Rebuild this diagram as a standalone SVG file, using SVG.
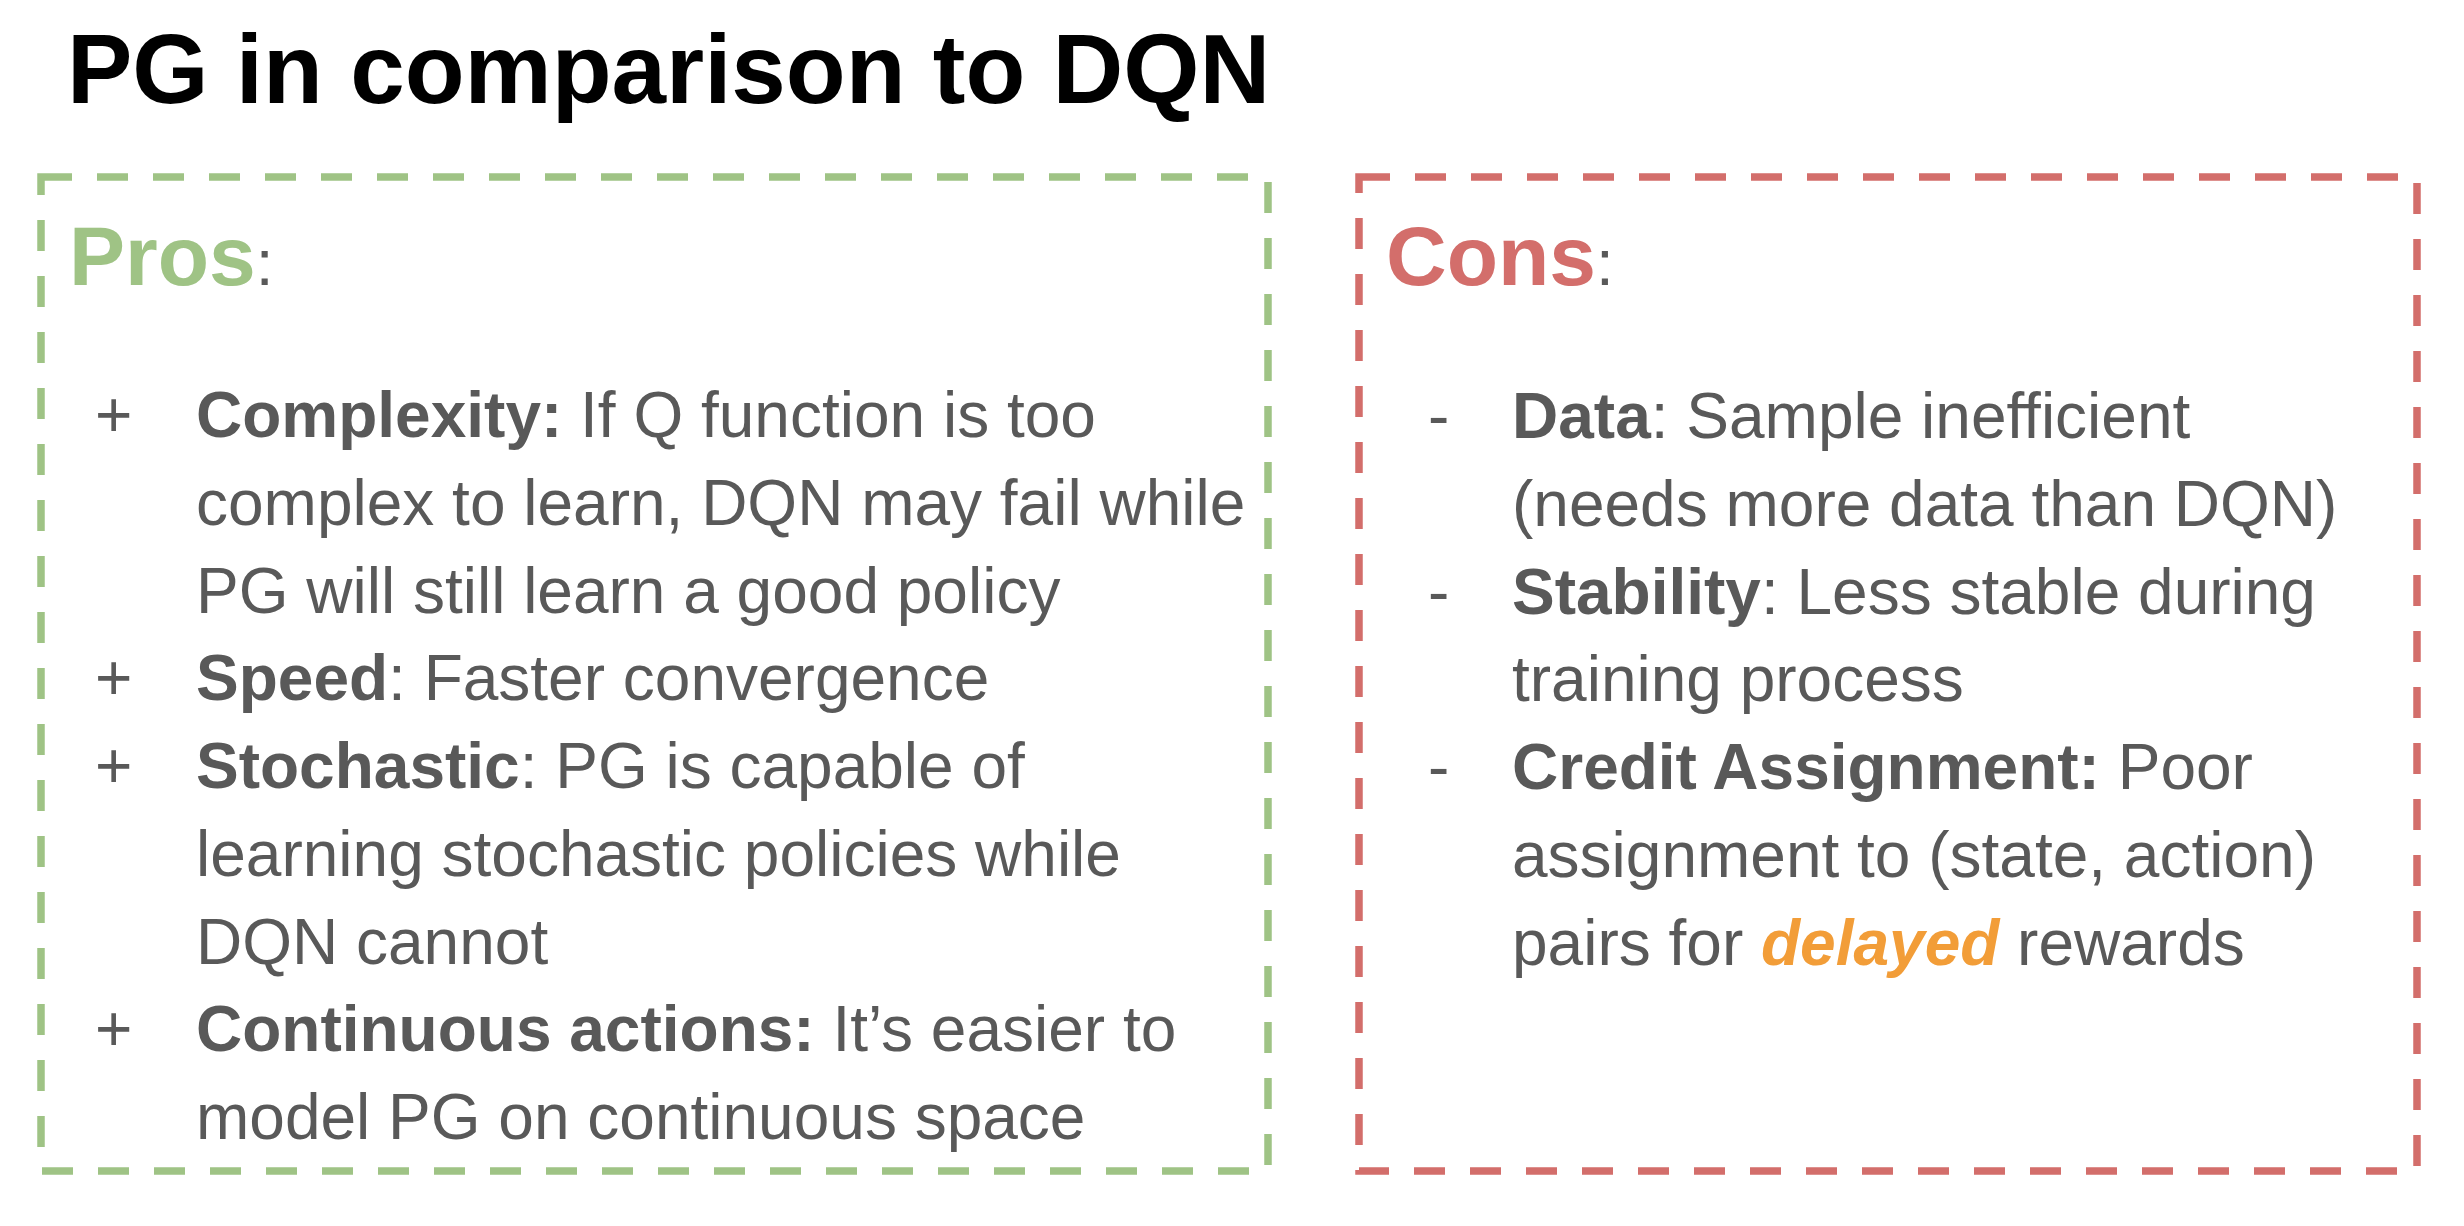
<svg xmlns="http://www.w3.org/2000/svg" width="2464" height="1226" viewBox="0 0 2464 1226">
<style>
text{font-family:"Liberation Sans",Arial,sans-serif;}
.title{font-size:98px;font-weight:bold;fill:#000000;}
.head{font-size:84px;font-weight:bold;}
.body{font-size:64px;fill:#595959;}
.b{font-weight:bold;}
.box{fill:none;stroke-width:7.5;stroke-dasharray:31 25;}
.green{stroke:#9FC385;}
.red{stroke:#D36E6B;}
.dl{fill:#F29D38;font-weight:bold;font-style:italic;}
</style>
<rect width="2464" height="1226" fill="#FFFFFF"/>
<g id="title">
<text class="title" x="67" y="103">PG in comparison to DQN</text>
</g>
<g id="pros">
<rect class="box green" x="41" y="177" width="1227" height="994"/>
<text x="69" y="285"><tspan class="head" fill="#9FC385">Pros</tspan><tspan class="body">:</tspan></text>
<g class="body">
<text x="95" y="437">+</text>
<text x="196" y="437"><tspan class="b">Complexity:</tspan> If Q function is too</text>
<text x="196" y="524.75">complex to learn, DQN may fail while</text>
<text x="196" y="612.5">PG will still learn a good policy</text>
<text x="95" y="700.25">+</text>
<text x="196" y="700.25"><tspan class="b">Speed</tspan>: Faster convergence</text>
<text x="95" y="788">+</text>
<text x="196" y="788"><tspan class="b">Stochastic</tspan>: PG is capable of</text>
<text x="196" y="875.75">learning stochastic policies while</text>
<text x="196" y="963.5">DQN cannot</text>
<text x="95" y="1051.25">+</text>
<text x="196" y="1051.25"><tspan class="b">Continuous actions:</tspan> It’s easier to</text>
<text x="196" y="1139">model PG on continuous space</text>
</g>
</g>
<g id="cons">
<rect class="box red" x="1359" y="177" width="1058" height="994"/>
<text x="1386" y="285"><tspan class="head" fill="#D36E6B">Cons</tspan><tspan class="body">:</tspan></text>
<g class="body">
<text x="1428" y="438">-</text>
<text x="1512" y="438"><tspan class="b">Data</tspan>: Sample inefficient</text>
<text x="1512" y="525.75">(needs more data than DQN)</text>
<text x="1428" y="613.5">-</text>
<text x="1512" y="613.5"><tspan class="b">Stability</tspan>: Less stable during</text>
<text x="1512" y="701.25">training process</text>
<text x="1428" y="789">-</text>
<text x="1512" y="789"><tspan class="b">Credit Assignment:</tspan> Poor</text>
<text x="1512" y="876.75">assignment to (state, action)</text>
<text x="1512" y="964.5">pairs for <tspan class="dl">delayed</tspan> rewards</text>
</g>
</g>
</svg>
